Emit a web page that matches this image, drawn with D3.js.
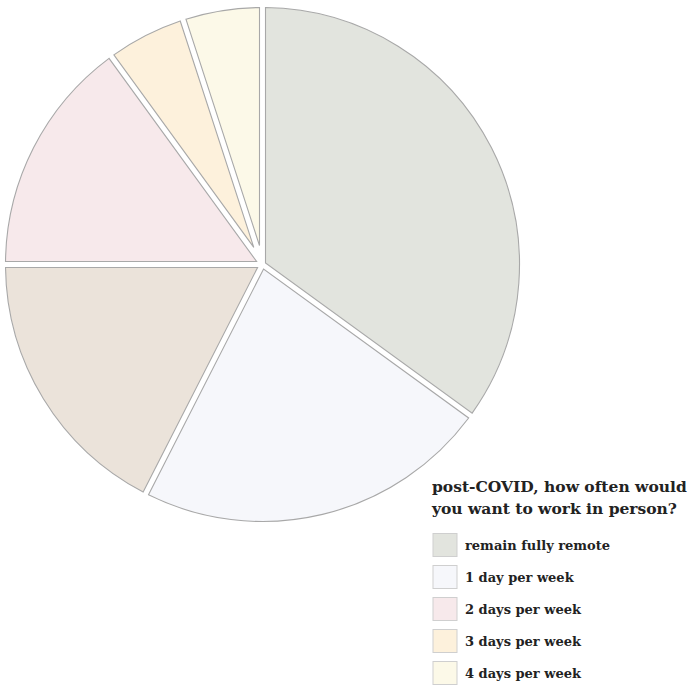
<!DOCTYPE html>
<html>
<head>
<meta charset="utf-8">
<script src="https://cdn.jsdelivr.net/npm/d3@7"></script>
<style>
  html, body { margin: 0; padding: 0; background: #fff; }
  svg { display: block; }
  text { font-family: "DejaVu Serif", serif; font-weight: bold; fill: #222; }
</style>
</head>
<body>
<svg id="chart" width="691" height="689"></svg>
<script>
// Survey answers: how many days per week people want to work in person
const categories = ["remain fully remote", "1 day per week", "2 days per week", "3 days per week", "4 days per week", "5 days per week"];
const counts = [14, 9, 6, 2, 2, 7];
const colors = ["#e2e4de", "#f6f7fb", "#f7e9eb", "#fdf1dc", "#fcf9e8", "#ebe3da"];
const legendCategories = categories.slice(0, 5);
const titleLines = ["post-COVID, how often would", "you want to work in person?"];

const width = 691, height = 689;
const cx = 262.5, cy = 264.5, outerR = 257;
const gap = 3; // half of the white gap between neighbouring slices

const svg = d3.select("#chart");

const data = categories.map((c, i) => ({ category: c, value: counts[i] }));

const color = d3.scaleOrdinal().domain(categories).range(colors);

// default pie sorting (largest slice first, clockwise from 12 o'clock)
const pie = d3.pie().value(d => d.value);

// constant-width gaps: pad the outer edge by `gap` px and pull the tip
// out to the point where the two offset edges meet
const arc = d3.arc()
  .outerRadius(outerR)
  .padRadius(outerR)
  .padAngle(2 * Math.asin(gap / outerR))
  .innerRadius(d => gap / Math.sin((d.endAngle - d.startAngle) / 2));

const g = svg.append("g").attr("transform", `translate(${cx},${cy})`);

g.selectAll("path")
  .data(pie(data))
  .join("path")
  .attr("d", arc)
  .attr("fill", d => color(d.data.category))
  .attr("stroke", "#a8a8a8")
  .attr("stroke-width", 1.1);

// legend
const legend = svg.append("g").attr("transform", "translate(432,0)");

legend.selectAll("text.title")
  .data(titleLines)
  .join("text")
  .attr("class", "title")
  .attr("x", 0)
  .attr("y", (d, i) => 492 + i * 22)
  .style("font-size", "15.5px")
  .text(d => d);

const item = d3.scaleBand().domain(legendCategories).range([533, 533 + 32 * legendCategories.length]);

const rows = legend.selectAll("g.item")
  .data(legendCategories)
  .join("g")
  .attr("class", "item")
  .attr("transform", d => `translate(0,${item(d)})`);

rows.append("rect")
  .attr("x", 1)
  .attr("y", 0.5)
  .attr("width", 24)
  .attr("height", 23)
  .attr("fill", d => color(d))
  .attr("stroke", "#cfcfcf")
  .attr("stroke-width", 1);

rows.append("text")
  .attr("x", 33)
  .attr("y", 17)
  .style("font-size", "13px")
  .text(d => d);
</script>
</body>
</html>
